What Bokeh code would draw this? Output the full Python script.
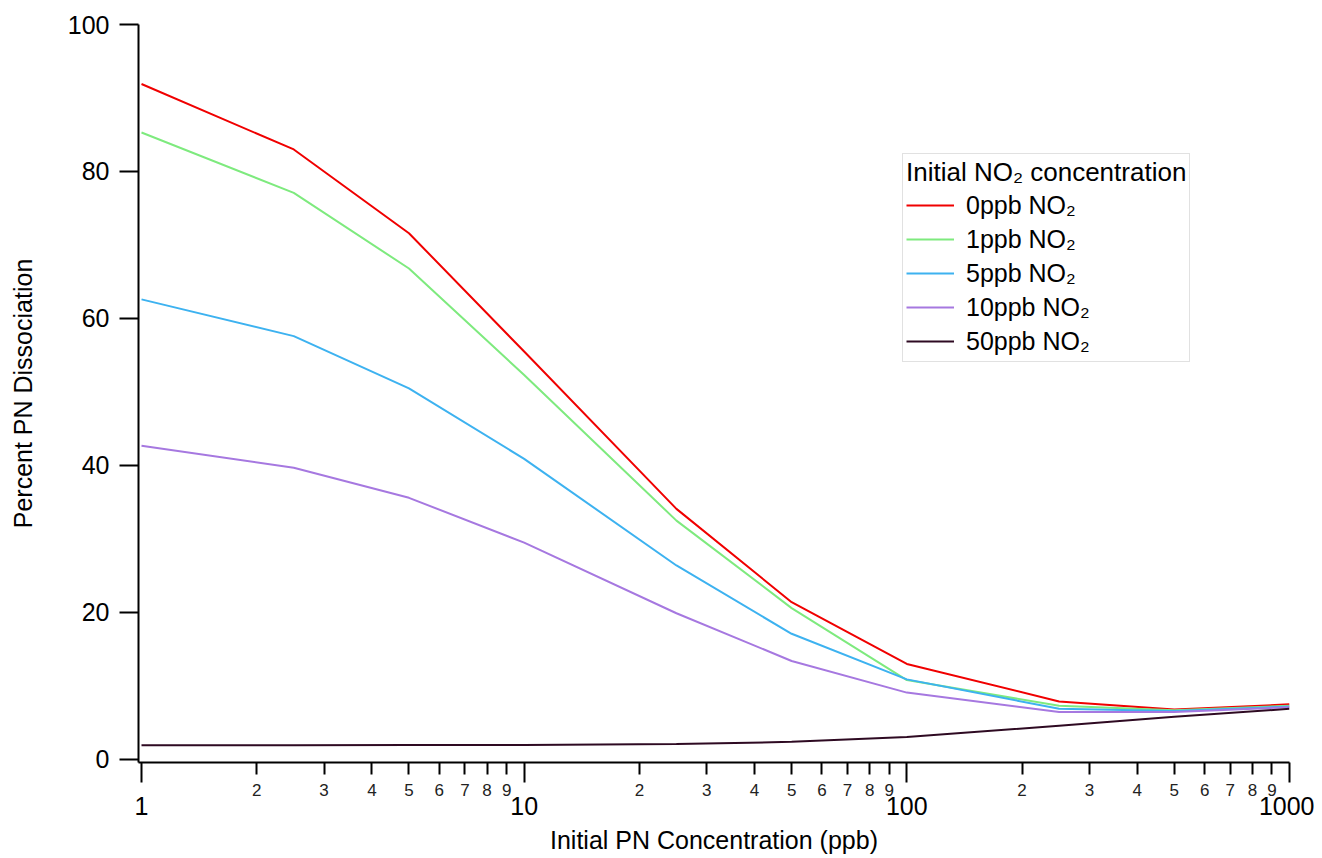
from bokeh.plotting import figure
from bokeh.models import Range1d, FixedTicker, LogAxis, Legend, LegendItem
from bokeh.embed import file_html
from bokeh.resources import INLINE

# ---- data ----
pn_conc = [1, 2.5, 5, 10, 25, 50, 100, 250, 500, 1000]
no2_0ppb = [91.9, 83.0, 71.6, 55.5, 34.1, 21.4, 13.0, 7.9, 6.8, 7.5]
no2_1ppb = [85.3, 77.1, 66.8, 52.3, 32.5, 20.6, 10.8, 7.3, 6.7, 7.3]
no2_5ppb = [62.6, 57.6, 50.5, 40.9, 26.4, 17.1, 10.9, 6.9, 6.6, 7.2]
no2_10ppb = [42.7, 39.7, 35.6, 29.5, 19.9, 13.4, 9.1, 6.45, 6.45, 7.1]
no2_50ppb = [1.95, 1.95, 1.96, 1.98, 2.1, 2.4, 3.05, 4.6, 5.8, 6.9]

series_labels = ["0ppb NO\u2082", "1ppb NO\u2082", "5ppb NO\u2082",
                 "10ppb NO\u2082", "50ppb NO\u2082"]
series_values = [no2_0ppb, no2_1ppb, no2_5ppb, no2_10ppb, no2_50ppb]
series_colors = ["#f00000", "#7eea7e", "#3db2f0", "#a678e0", "#2e0a22"]

legend_title = "Initial NO\u2082 concentration"
x_title = "Initial PN Concentration (ppb)"
y_title = "Percent PN Dissociation"

y_ticks = [0, 20, 40, 60, 80, 100]
decade_ticks = [1, 10, 100, 1000]
decade_labels = ["1", "10", "100", "1000"]
minor_ticks = [2, 3, 4, 5, 6, 7, 8, 9,
               20, 30, 40, 50, 60, 70, 80, 90,
               200, 300, 400, 500, 600, 700, 800, 900]
minor_labels = ["2", "3", "4", "5", "6", "7", "8", "9"] * 3

FONT = "Liberation Sans"

p = figure(width=1314, height=856, x_axis_type="log",
           x_range=Range1d(10 ** (-3 / 382.6), 1000),
           y_range=Range1d(-0.41, 100),
           output_backend="svg", toolbar_location=None,
           x_axis_location=None,
           min_border_left=138, min_border_right=25,
           min_border_top=24, min_border_bottom=93)
p.outline_line_color = None
p.xgrid.visible = False
p.ygrid.visible = False
p.background_fill_color = "white"
p.border_fill_color = "white"

# y axis
ya = p.yaxis[0]
ya.ticker = FixedTicker(ticks=y_ticks, minor_ticks=[])
ya.axis_line_width = 2
ya.axis_line_color = "black"
ya.major_tick_line_width = 2
ya.major_tick_out = 19
ya.major_tick_in = 0
ya.minor_tick_out = 0
ya.minor_tick_in = 0
ya.major_label_standoff = 10
ya.major_label_text_font = FONT
ya.major_label_text_font_size = "25px"
ya.major_label_text_color = "black"
ya.axis_label = y_title
ya.axis_label_text_font = FONT
ya.axis_label_text_font_size = "25px"
ya.axis_label_text_font_style = "normal"
ya.axis_label_text_color = "black"
ya.axis_label_standoff = 28

# x axis: minor labels (near frame)
xb = LogAxis(ticker=FixedTicker(ticks=minor_ticks, minor_ticks=decade_ticks),
             major_label_overrides={t: l for t, l in zip(minor_ticks, minor_labels)})
xb.axis_line_width = 2
xb.axis_line_color = "black"
xb.major_tick_out = 12
xb.major_tick_in = 0
xb.major_tick_line_width = 2
xb.minor_tick_out = 20
xb.minor_tick_in = 0
xb.minor_tick_line_width = 2
xb.minor_tick_line_color = "black"
xb.major_label_standoff = 1
xb.major_label_text_font = FONT
xb.major_label_text_font_size = "17px"
xb.major_label_text_color = "#222222"

# x axis: decade labels + title
xa = LogAxis(ticker=FixedTicker(ticks=decade_ticks, minor_ticks=[]),
             major_label_overrides={t: l for t, l in zip(decade_ticks, decade_labels)})
xa.axis_line_color = None
xa.major_tick_out = 0
xa.major_tick_in = 0
xa.minor_tick_out = 0
xa.minor_tick_in = 0
xa.major_label_standoff = -2
xa.major_label_text_font = FONT
xa.major_label_text_font_size = "25px"
xa.major_label_text_color = "black"
xa.axis_label = x_title
xa.axis_label_text_font = FONT
xa.axis_label_text_font_size = "25px"
xa.axis_label_text_font_style = "normal"
xa.axis_label_text_color = "black"
xa.axis_label_standoff = 8

p.add_layout(xb, "below")
p.add_layout(xa, "below")

items = []
for lab, vals, col in zip(series_labels, series_values, series_colors):
    r = p.line(pn_conc, vals, line_color=col, line_width=2)
    items.append(LegendItem(label=lab, renderers=[r]))

legend = Legend(items=items, location=(764, 400), title=legend_title)
legend.title_text_font = FONT
legend.title_text_font_size = "26px"
legend.title_text_font_style = "normal"
legend.title_text_color = "black"
legend.title_standoff = 0
legend.label_text_font = FONT
legend.label_text_font_size = "25px"
legend.label_text_color = "black"
legend.label_standoff = 12
legend.label_height = 34
legend.glyph_height = 34
legend.glyph_width = 48
legend.spacing = 0
legend.padding = 3
legend.margin = 0
legend.border_line_color = "#c4c4c4"
legend.border_line_width = 1
legend.background_fill_color = "white"
legend.background_fill_alpha = 1.0
p.add_layout(legend)

open("out.html", "w").write(file_html(p, INLINE))
